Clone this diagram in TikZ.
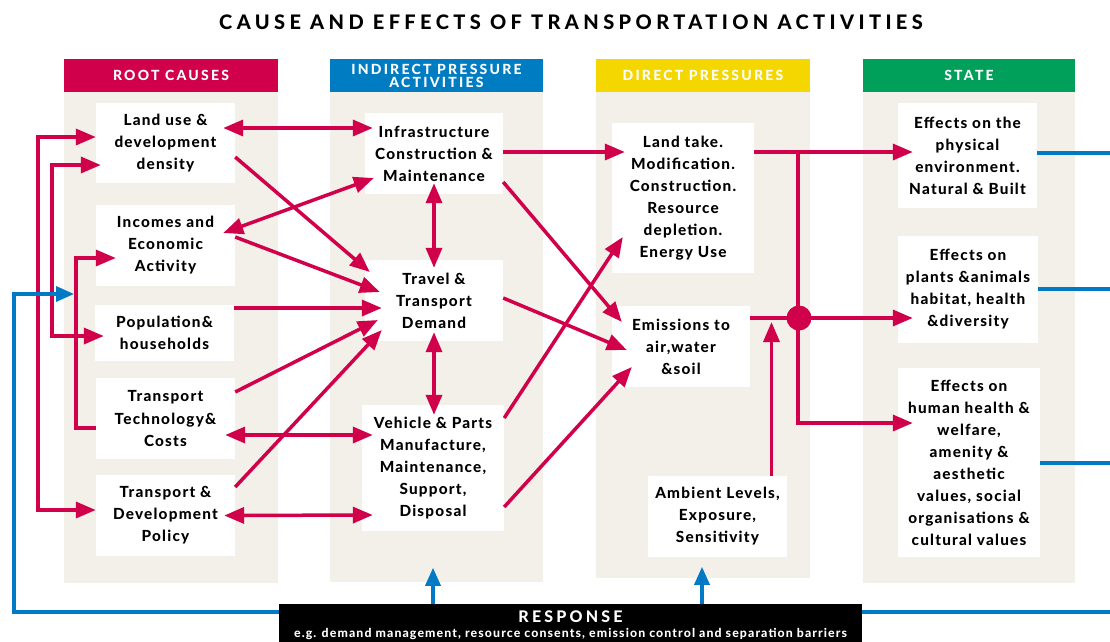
\documentclass[tikz,border=0pt]{standalone}
\usepackage{fontspec}
\setmainfont{Lato}[BoldFont={Lato Heavy}]
\newfontfamily\boxfont{Lato}[BoldFont={Lato Heavy}, LetterSpace=8]
\newfontfamily\capsfont{Lato}[BoldFont={Lato Heavy}, LetterSpace=16]
\usetikzlibrary{arrows.meta,calc}

\definecolor{crim}{RGB}{208,0,74}
\definecolor{hdrblue}{RGB}{0,124,194}
\definecolor{hdryellow}{RGB}{245,215,0}
\definecolor{hdrgreen}{RGB}{0,160,90}
\definecolor{panelbg}{RGB}{243,240,234}
\definecolor{respblue}{RGB}{0,122,196}

\tikzset{
  header/.style={fill=#1, text=white, minimum width=214pt, minimum height=33pt,
    inner sep=0pt, align=center, font=\capsfont\bfseries\fontsize{14}{13}\selectfont},
  box/.style={fill=white, align=center, inner sep=0pt,
    font=\boxfont\bfseries\fontsize{15.3}{22}\selectfont},
  flow/.style={draw=crim, line width=3.5pt, -{Triangle[length=20pt,width=16pt]}},
  flowboth/.style={draw=crim, line width=3.5pt,
    {Triangle[length=20pt,width=16pt]}-{Triangle[length=20pt,width=16pt]}},
  respline/.style={draw=respblue, line width=3.5pt},
  respflow/.style={respline, -{Triangle[length=18pt,width=15pt]}},
}

\begin{document}
\begin{tikzpicture}[x=1pt, y=-1pt]
\useasboundingbox (0,0) rectangle (1110,641);

% title
\node[font=\capsfont\bfseries\fontsize{20}{22}\selectfont] (title) at (571,22)
  {\addfontfeature{LetterSpace=22}CAUSE AND EFFECTS OF TRANSPORTATION ACTIVITIES};

% column panels
\fill[panelbg] (64,92) rectangle (278,583);
\fill[panelbg] (330,92) rectangle (543,582);
\fill[panelbg] (596,92) rectangle (810,578);
\fill[panelbg] (863,92) rectangle (1075,583);

% headers
\node[header=crim] (hroot) at (171,75.5) {ROOT CAUSES};
\node[header=hdrblue, minimum width=213pt] (hindirect) at (436.5,75.5)
  {INDIRECT PRESSURE\\ACTIVITIES};
\node[header=hdryellow] (hdirect) at (703,75.5) {DIRECT PRESSURES};
\node[header=hdrgreen, minimum width=212pt] (hstate) at (969,75.5) {STATE};

% root causes
\node[box, minimum width=139pt, minimum height=80pt] (landuse) at (165.5,143)
  {Land use \&\\development\\density};
\node[box, minimum width=139pt, minimum height=81pt] (income) at (165.5,245.5)
  {Incomes and\\Economic\\Activity};
\node[box, minimum width=139pt, minimum height=56pt] (popul) at (164.5,333)
  {Population\&\\households};
\node[box, minimum width=139pt, minimum height=81pt] (tech) at (165.5,418.5)
  {Transport\\Technology\&\\Costs};
\node[box, minimum width=139pt, minimum height=81pt] (policy) at (165.5,515.5)
  {Transport \&\\Development\\Policy};

% indirect pressure activities
\node[box, minimum width=138pt, minimum height=81pt] (infra) at (434,153.5)
  {Infrastructure\\Construction \&\\Maintenance};
\node[box, minimum width=138pt, minimum height=81pt] (travel) at (434,300.5)
  {Travel \&\\Transport\\Demand};
\node[box, minimum width=142pt, minimum height=126pt] (vehicle) at (433,468)
  {Vehicle \& Parts\\Manufacture,\\Maintenance,\\Support,\\Disposal};

% direct pressures
\node[box, minimum width=142pt, minimum height=150pt] (landtake) at (683,198)
  {Land take.\\Modification.\\Construction.\\Resource\\depletion.\\Energy Use};
\node[box, minimum width=138pt, minimum height=81pt] (emis) at (681,346.5)
  {Emissions to\\air,water\\\&soil};
\node[box, minimum width=139pt, minimum height=81pt] (ambient) at (717.5,516.5)
  {Ambient Levels,\\Exposure,\\Sensitivity};

% state
\node[box, minimum width=139pt, minimum height=105pt] (physical) at (967.5,155.5)
  {Effects on the\\physical\\environment.\\Natural \& Built};
\node[box, minimum width=140pt, minimum height=107pt] (plants) at (968,289.5)
  {Effects on\\plants \&animals\\habitat, health\\\&diversity};
\node[box, minimum width=142pt, minimum height=189pt] (human) at (969,462.5)
  {Effects on\\human health \&\\welfare,\\amenity \&\\aesthetic\\values, social\\organisations \&\\cultural values};

% response bar
\node[fill=black, text=white, minimum width=583pt, minimum height=43pt, inner sep=0pt,
  align=center] (resp) at (570.5,625.5)
  {{\capsfont\bfseries\fontsize{16}{17}\selectfont\addfontfeature{LetterSpace=20}RESPONSE}\\[3pt]
   {\boxfont\bfseries\fontsize{12.3}{13}\selectfont\addfontfeature{LetterSpace=9}e.g. demand management, resource consents, emission control and separation barriers}};

% feedback loops on the left
\draw[flowboth] ([yshift=6pt]landuse.west) -- ++(-58,0) |- ([yshift=5.5pt]policy.west);
\draw[flowboth] ([xshift=5pt,yshift=-22pt]landuse.west) -- ++(-49,0)
  |- ([xshift=9pt,yshift=-3pt]popul.west);
\draw[flow] ([yshift=-9.5pt]tech.west) -- ++(-20,0) |- ([xshift=20pt,yshift=-12.5pt]income.west);

% root causes to indirect pressures
\draw[flowboth] ([xshift=-12pt,yshift=15pt]landuse.east) -- ([xshift=8pt,yshift=25.5pt]infra.west);
\draw[flow] ([yshift=-14pt]landuse.east) -- ([xshift=5pt,yshift=28.5pt]travel.west);
\draw[flowboth] ([xshift=-12pt,yshift=12.5pt]income.east) -- ([xshift=9pt,yshift=-24.5pt]infra.west);
\draw[flow] ([yshift=8.5pt]income.east) -- ([xshift=15pt,yshift=8.5pt]travel.west);
\draw[flow] ([yshift=25pt]popul.east) -- ([xshift=17pt,yshift=-7.5pt]travel.west);
\draw[flow] ([yshift=26.5pt]tech.east) -- ([xshift=13pt,yshift=-19.5pt]travel.west);
\draw[flow] ([yshift=28.5pt]policy.east) -- ([xshift=17pt,yshift=-29.5pt]travel.west);
\draw[flowboth] ([xshift=-10pt,yshift=-16.5pt]tech.east) -- ([xshift=11pt,yshift=33pt]vehicle.west);
\draw[flowboth] ([xshift=-11pt]policy.east) -- ([xshift=11pt,yshift=-47pt]vehicle.west);

% within indirect pressures
\draw[flowboth] ([yshift=11pt]infra.south) -- ([yshift=-8pt]travel.north);
\draw[flowboth] ([yshift=9pt]travel.south) -- ([xshift=1pt,yshift=-10pt]vehicle.north);

% indirect to direct pressures
\draw[flow] ([yshift=1.5pt]infra.east) -- ([xshift=13pt,yshift=46pt]landtake.west);
\draw[flow] ([yshift=-28.5pt]infra.east) -- ([xshift=10pt,yshift=24.5pt]emis.west);
\draw[flow] ([yshift=2.5pt]travel.east) -- ([xshift=15pt,yshift=-3.5pt]emis.west);
\draw[flow] ([yshift=50pt]vehicle.east) -- ([xshift=11pt,yshift=-39pt]landtake.west);
\draw[flow] ([yshift=-39pt]vehicle.east) -- ([xshift=20pt,yshift=-20.5pt]emis.west);

% direct pressures to state
\coordinate (split) at (798,152);
\draw[flow] ([yshift=46pt]landtake.east) -- ([xshift=15pt,yshift=3.5pt]physical.west);
\draw[flow] (split) |- ([xshift=15pt,yshift=39.5pt]human.west);
\node[circle, fill=crim, minimum size=25pt, inner sep=0pt] (hub) at (799,318) {};
\draw[flow] ([yshift=28.5pt]emis.east) -- ([xshift=15pt,yshift=-28.5pt]plants.west);
\coordinate (amb) at ([xshift=54pt]ambient.north);
\draw[flow, shorten >=4pt] (amb) -- (amb |- hub);

% response loops
\coordinate (fb) at (74,294);
\draw[respflow] ([yshift=13.5pt]resp.west) -- ++(-265,0) |- (fb);
\draw[respline] ([yshift=13.5pt]resp.east) -- ++(248,0);
\draw[respline] ([yshift=2.5pt]physical.east) -- ++(73,0);
\draw[respline] ([yshift=0.5pt]plants.east) -- ++(72,0);
\draw[respline] ([yshift=-0.5pt]human.east) -- ++(70,0);
\draw[respflow] ([xshift=-137.5pt]resp.north) -- ++(0,-36);
\draw[respflow] ([xshift=131.5pt]resp.north) -- ++(0,-37);
\end{tikzpicture}
\end{document}
